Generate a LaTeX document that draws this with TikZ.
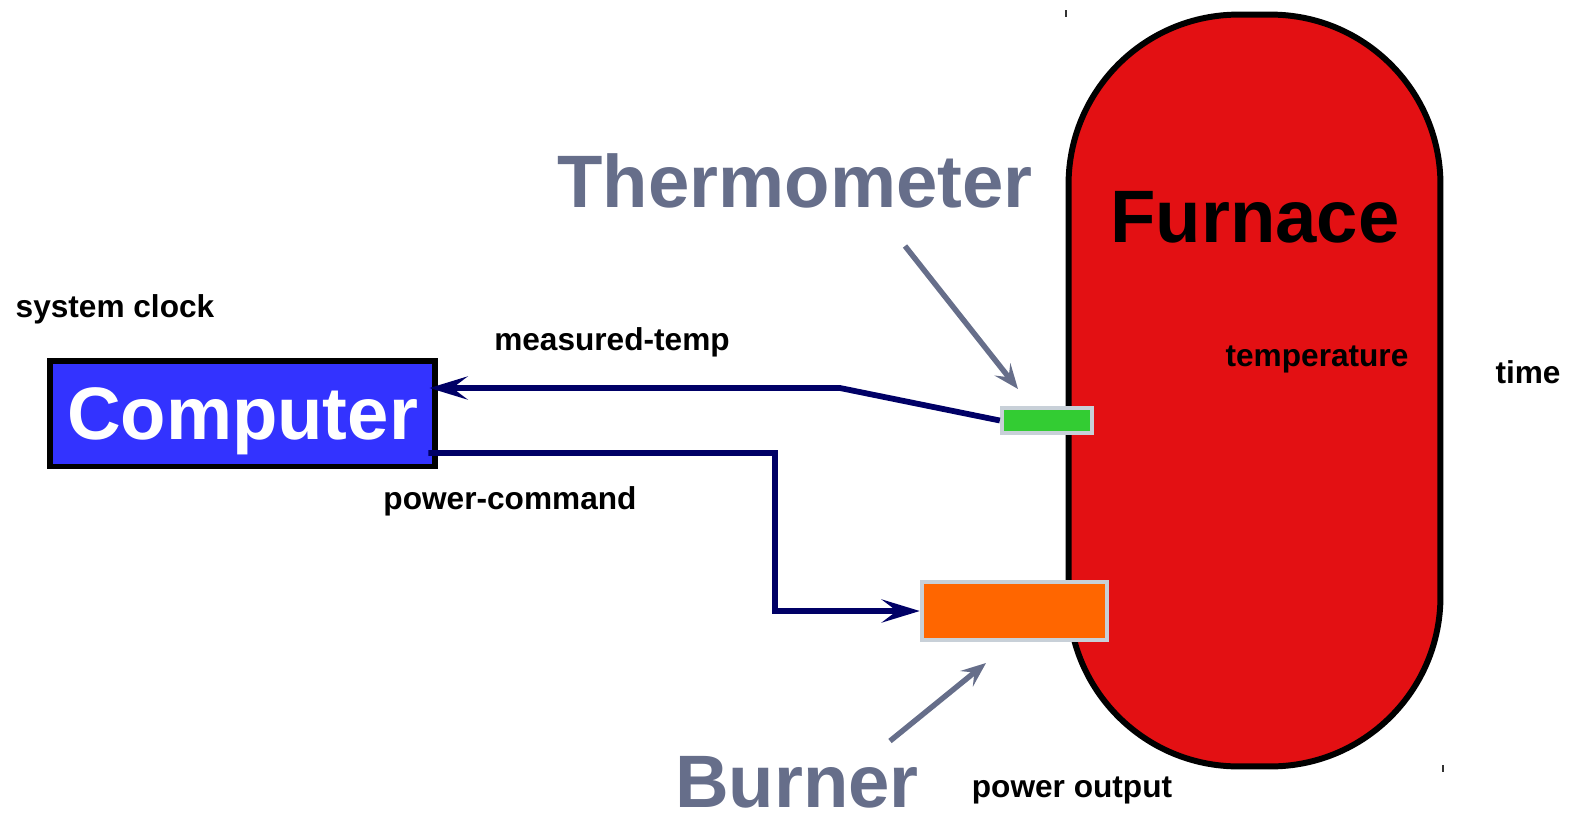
\documentclass[tikz,border=0pt]{standalone}
\usepackage{fontspec}
\setmainfont{Liberation Sans}
\usetikzlibrary{arrows.meta}
\definecolor{compblue}{HTML}{3333FF}
\definecolor{furnred}{HTML}{E31013}
\definecolor{sensgreen}{HTML}{33CC33}
\definecolor{burnorange}{HTML}{FF6600}
\definecolor{rimgray}{HTML}{C8D0D8}
\definecolor{wirenavy}{HTML}{000066}
\definecolor{tagslate}{HTML}{666E8A}
\begin{document}
\begin{tikzpicture}[
    x=0.02cm, y=-0.02cm,
    big/.style={font=\fontsize{42.3}{50}\selectfont\bfseries, inner sep=0pt, anchor=base, text depth=0pt},
    small/.style={font=\fontsize{18}{21}\selectfont\bfseries, inner sep=0pt, anchor=base},
    sensor/.style={draw=rimgray, line width=2.5pt, inner sep=0pt},
    wire/.style={-{Stealth[length=0.76cm, width=0.46cm, inset=0.3cm]}, draw=wirenavy, line width=3.3pt},
    pointer/.style={-{Stealth[length=0.5cm, width=0.4cm, inset=0.2cm]}, draw=tagslate, line width=3.1pt}
]
  \useasboundingbox (0,0) rectangle (1576,819);

  \node[draw=black, line width=3.4pt, fill=furnred, rounded corners=3.4cm, minimum width=7.44cm, minimum height=15.04cm] (furnace) at (1254.5,390.5) {};
  \node[draw=black, line width=3.4pt, fill=compblue, text=white, minimum width=7.72cm, minimum height=2.12cm, text depth=0pt, font=\fontsize{42.3}{50}\selectfont\bfseries] (computer) at (242.5,413.5) {Computer};

  \node[sensor, fill=sensgreen, minimum width=1.8cm, minimum height=0.5cm] (thermo) at (1047,420.5) {};
  \node[sensor, fill=burnorange, minimum width=3.7cm, minimum height=1.16cm] (burner) at (1014.5,611) {};

  \node[big, text=tagslate] (thermolabel) at (795,207) {Thermometer};
  \node[big] (furnacelabel) at (1255,242) {Furnace};
  \node[big, text=tagslate] (burnerlabel) at (797,807) {Burner};

  \node[small] (clock) at (115,317) {system clock};
  \node[small] (measured) at (612,350) {measured-temp};
  \node[small] (command) at (510,509) {power-command};
  \node[small] (temp) at (1317,366) {temperature};
  \node[small] (time) at (1528,383) {time};
  \node[small] (output) at (1072,797) {power output};

  \draw[wire] (thermo.west) -- (840,388) -- ([xshift=-0.18cm, yshift=0.51cm]computer.east);
  \draw[wire] ([xshift=-0.2cm, yshift=-0.79cm]computer.east) -- (775,453) |- (burner.west);

  % pointers from the labels to the parts
  \coordinate (thermotail) at (905,246);
  \coordinate (thermotip) at (1018,389);
  \coordinate (burnertail) at (890,741);
  \coordinate (burnertip) at (986,663);
  \draw[pointer] (thermotail) -- (thermotip);
  \draw[pointer] (burnertail) -- (burnertip);

  \draw[line width=0.6pt, black!80] (1066,10) -- (1066,17);
  \draw[line width=0.6pt, black!80] (1443,765) -- (1443,772);
\end{tikzpicture}
\end{document}
